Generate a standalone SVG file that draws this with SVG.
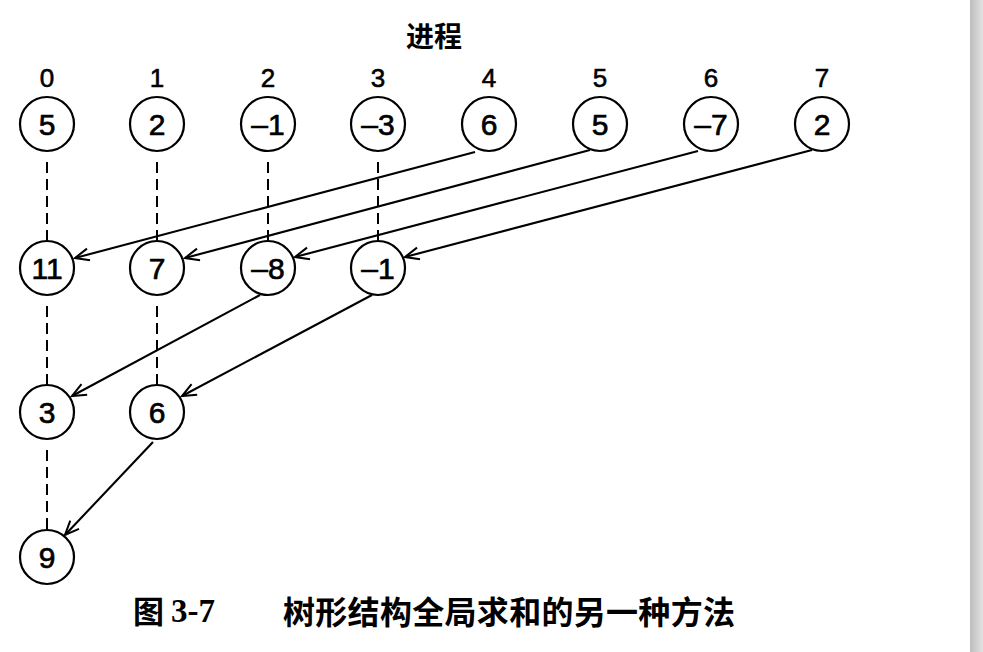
<svg xmlns="http://www.w3.org/2000/svg" width="983" height="652" viewBox="0 0 983 652">
<defs>
<linearGradient id="edge" x1="0" y1="0" x2="1" y2="0">
<stop offset="0" stop-color="#bdbdbd"/>
<stop offset="1" stop-color="#e2e2e2"/>
</linearGradient>
<marker id="arr" markerUnits="userSpaceOnUse" markerWidth="20" markerHeight="20" refX="0" refY="0" viewBox="-15 -10 20 20" orient="auto" overflow="visible">
<path d="M-14,-6 L0,0 L-14,6" fill="none" stroke="#000" stroke-width="2"/>
</marker>
<style>
.n circle{fill:#fff;stroke:#000;stroke-width:2.2}
.v{font-family:"Liberation Sans",Arial,sans-serif;font-size:30px;text-anchor:middle;fill:#000;stroke:#000;stroke-width:0.7}
.lbl{font-family:"Liberation Sans",Arial,sans-serif;font-size:26px;text-anchor:middle;fill:#000;stroke:#000;stroke-width:0.6}
.dash{stroke:#000;stroke-width:2;stroke-dasharray:11 6;fill:none}
.arrow{stroke:#000;stroke-width:2.1;fill:none;marker-end:url(#arr)}
.cjk{font-family:"Noto Sans CJK SC","Noto Sans CJK JP",sans-serif;fill:#000}
</style>
</defs>
<rect x="0" y="0" width="983" height="652" fill="#fff"/>
<rect x="970" y="0" width="13" height="652" fill="url(#edge)"/>

<text class="cjk" x="434" y="47" font-size="28" font-weight="bold" text-anchor="middle">进程</text>

<g id="labels">
<text class="lbl" x="47" y="87">0</text>
<text class="lbl" x="157" y="87">1</text>
<text class="lbl" x="268" y="87">2</text>
<text class="lbl" x="378" y="87">3</text>
<text class="lbl" x="489" y="87">4</text>
<text class="lbl" x="600" y="87">5</text>
<text class="lbl" x="711" y="87">6</text>
<text class="lbl" x="822" y="87">7</text>
</g>

<g id="connectors">
<line class="dash" x1="47" y1="162" x2="47" y2="241"/>
<line class="dash" x1="157" y1="162" x2="157" y2="241"/>
<line class="dash" x1="268" y1="162" x2="268" y2="241"/>
<line class="dash" x1="378" y1="162" x2="378" y2="241"/>
<line class="dash" x1="47" y1="306" x2="47" y2="385"/>
<line class="dash" x1="157" y1="306" x2="157" y2="385"/>
<line class="dash" x1="47" y1="450" x2="47" y2="530"/>
<line class="arrow" x1="475" y1="152" x2="75" y2="258"/>
<line class="arrow" x1="590" y1="150" x2="185" y2="258"/>
<line class="arrow" x1="698" y1="151" x2="295" y2="257"/>
<line class="arrow" x1="812" y1="150" x2="405" y2="257"/>
<line class="arrow" x1="260" y1="295" x2="72" y2="396"/>
<line class="arrow" x1="372" y1="295" x2="182" y2="396"/>
<line class="arrow" x1="153" y1="442" x2="65" y2="535"/>
</g>

<g id="p0" class="n"><circle cx="47" cy="124" r="27"/><text class="v" x="47" y="135">5</text></g>
<g id="p1" class="n"><circle cx="157" cy="124" r="27"/><text class="v" x="157" y="135">2</text></g>
<g id="p2" class="n"><circle cx="268" cy="124" r="27"/><text class="v" x="268" y="135">–1</text></g>
<g id="p3" class="n"><circle cx="378" cy="124" r="27"/><text class="v" x="378" y="135">–3</text></g>
<g id="p4" class="n"><circle cx="489" cy="124" r="27"/><text class="v" x="489" y="135">6</text></g>
<g id="p5" class="n"><circle cx="600" cy="124" r="27"/><text class="v" x="600" y="135">5</text></g>
<g id="p6" class="n"><circle cx="711" cy="124" r="27"/><text class="v" x="711" y="135">–7</text></g>
<g id="p7" class="n"><circle cx="822" cy="124" r="27"/><text class="v" x="822" y="135">2</text></g>

<g id="s0" class="n"><circle cx="47" cy="268" r="27"/><text class="v" x="47" y="279">11</text></g>
<g id="s1" class="n"><circle cx="157" cy="268" r="27"/><text class="v" x="157" y="279">7</text></g>
<g id="s2" class="n"><circle cx="268" cy="268" r="27"/><text class="v" x="268" y="279">–8</text></g>
<g id="s3" class="n"><circle cx="378" cy="268" r="27"/><text class="v" x="378" y="279">–1</text></g>

<g id="t0" class="n"><circle cx="47" cy="412" r="27"/><text class="v" x="47" y="423">3</text></g>
<g id="t1" class="n"><circle cx="157" cy="412" r="27"/><text class="v" x="157" y="423">6</text></g>

<g id="u0" class="n"><circle cx="47" cy="557" r="27"/><text class="v" x="47" y="568">9</text></g>

<g id="caption">
<text class="cjk" x="133" y="623" font-size="31" font-weight="bold">图</text>
<text x="171" y="622" font-family="'Liberation Serif','Times New Roman',serif" font-size="33" font-weight="bold" fill="#000">3-7</text>
<text class="cjk" x="283" y="624" font-size="32" font-weight="bold" textLength="452" lengthAdjust="spacing">树形结构全局求和的另一种方法</text>
</g>
</svg>
